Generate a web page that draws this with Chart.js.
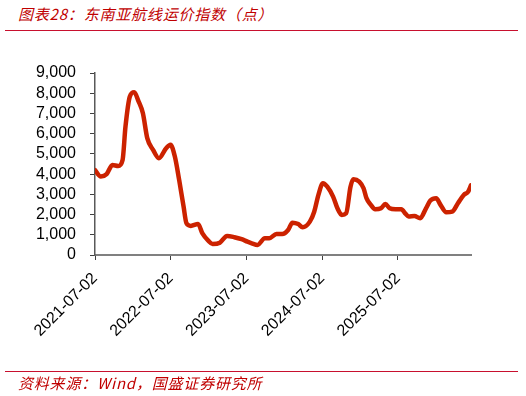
<!DOCTYPE html>
<html>
<head>
<meta charset="utf-8">
<script src="https://cdn.jsdelivr.net/npm/chart.js@4/dist/chart.umd.min.js"></script>
<style>
  body { margin: 0; background: #fff; }
  #wrap { position: relative; width: 526px; height: 396px; overflow: hidden; }
  #chart { position: absolute; left: 0; top: 0; }
  .cap { position: absolute; left: 18px; font-family: "Noto Sans CJK SC", sans-serif; font-style: italic; font-size: 15px; letter-spacing: 0.8px; color: #c00000; white-space: nowrap; line-height: 20px; }
  .rule { position: absolute; left: 5px; width: 513px; height: 1px; background: #c8102e; }
</style>
</head>
<body>
<div id="wrap">
  <div class="cap" style="top:4px;">图表28：东南亚航线运价指数（点）</div>
  <div class="rule" style="top:30px;"></div>
  <canvas id="chart" width="526" height="396"></canvas>
  <div class="rule" style="top:371px;"></div>
  <div class="cap" style="top:373px;">资料来源：Wind，国盛证券研究所</div>
</div>
<script>
// weeks since 2021-07-02 and index values
const startDate = '2021-07-02';
const weekNo = [0, 4, 8, 12, 16, 19, 21, 24, 27, 30, 33, 36, 40, 44, 49, 52, 55, 58, 61, 63,
  66, 71, 74, 78, 81, 86, 91, 96, 101, 105, 108, 112, 117, 120, 125, 129, 133, 136, 140, 143,
  148, 151, 154, 157, 160, 164, 167, 170, 173, 176, 178, 182, 185, 187, 190, 193, 197, 200, 203, 207,
  211, 214, 216, 220, 224, 228, 231, 235, 238, 242, 246, 250, 254, 257, 259];
const indexValues = [4200, 3880, 4000, 4450, 4400, 4700, 6350, 7840, 8050, 7600, 7010, 5780, 5200, 4790, 5280, 5450, 4870, 3700, 2400, 1570,
  1440, 1530, 1070, 710, 545, 610, 940, 880, 780, 660, 580, 500, 830, 830, 1040, 1040, 1240, 1600, 1530, 1370,
  1650, 2140, 3000, 3550, 3380, 2890, 2310, 1980, 2060, 3380, 3750, 3630, 3300, 2810, 2480, 2260, 2310, 2520, 2310, 2260,
  2260, 2030, 1900, 1930, 1820, 2310, 2690, 2810, 2480, 2110, 2140, 2560, 2970, 3130, 3450];
const tickLabels = ['2021-07-02', '2022-07-02', '2023-07-02', '2024-07-02', '2025-07-02'];

const DAY = 86400000;
function daysFromStart(s) {
  return (Date.parse(s) - Date.parse(startDate)) / DAY;
}
const tickDays = tickLabels.map(daysFromStart);
const points = weekNo.map((w, i) => ({ x: w * 7, y: indexValues[i] }));

const axisFont = { family: '"Liberation Sans", Arial, sans-serif', size: 16 };

new Chart(document.getElementById('chart'), {
  type: 'line',
  data: {
    datasets: [{
      data: points,
      borderColor: '#cc2200',
      borderWidth: 4.5,
      pointRadius: 0,
      tension: 0.4,
      cubicInterpolationMode: 'monotone',
      borderCapStyle: 'round',
      borderJoinStyle: 'round',
      fill: false
    }]
  },
  options: {
    responsive: false,
    animation: false,
    layout: { padding: { left: 0, right: 55, top: 73, bottom: 0 } },
    plugins: { legend: { display: false }, tooltip: { enabled: false } },
    scales: {
      x: {
        type: 'linear',
        min: 0,
        max: weekNo[weekNo.length - 1] * 7,
        afterBuildTicks: scale => { scale.ticks = tickDays.map(v => ({ value: v })); },
        afterFit: scale => { scale.height = 141; },
        border: { display: true, color: '#808080', width: 2 },
        grid: { display: true, drawOnChartArea: false, drawTicks: true, tickLength: 5, color: '#404040' },
        ticks: {
          autoSkip: false,
          minRotation: 45,
          maxRotation: 45,
          padding: 9,
          color: '#000',
          font: axisFont,
          callback: (v, i) => tickLabels[i]
        }
      },
      y: {
        min: 0,
        max: 9000,
        afterFit: scale => { scale.width = 95; },
        border: { display: true, color: '#595959', width: 1.5 },
        grid: { display: true, drawOnChartArea: false, drawTicks: true, tickLength: 5, color: '#404040' },
        ticks: {
          stepSize: 1000,
          autoSkip: false,
          padding: 14,
          color: '#000',
          font: axisFont,
          callback: v => v.toLocaleString('en-US')
        }
      }
    }
  }
});
</script>
</body>
</html>
